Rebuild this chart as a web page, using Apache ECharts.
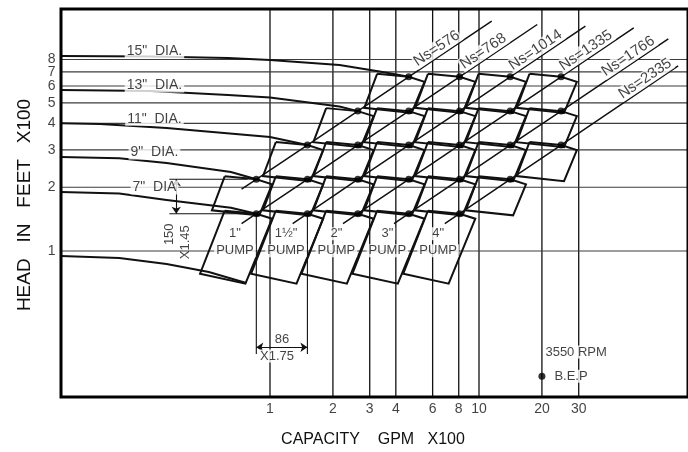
<!DOCTYPE html>
<html><head><meta charset="utf-8">
<script src="https://cdn.jsdelivr.net/npm/echarts@6/dist/echarts.min.js"></script>
<style>html,body{margin:0;padding:0;background:#fff}#c{width:688px;height:452px}</style>
</head><body><div id="c"></div>
<script>
// ---------------- data ----------------
const xTicks = [1, 2, 3, 4, 6, 8, 10, 20, 30];
const yTicks = [1, 2, 3, 4, 5, 6, 7, 8];
// BEP capacity (GPM x100) of each pump column and BEP head (ft x100) of each row
const bepQ = [0.86, 1.51, 2.63, 4.61, 8.07, 14.1, 24.7];
const bepH = [1.50, 2.18, 3.16, 4.57, 6.63];
// columns present on each row
const rowFirstCol = [0, 0, 1, 2, 3];
const rowLastCol  = [4, 5, 6, 6, 6];
const pumpSizes = ['1"', '1½"', '2"', '3"', '4"'];
const diaLabels = ['7"  DIA', '9"  DIA.', '11"  DIA.', '13"  DIA.', '15"  DIA.'];
// impeller H-Q curves from the left edge to the first BEP of each row
const curveQ = [
  [0.1, 0.19, 0.32, 0.65, 0.86],
  [0.1, 0.19, 0.32, 0.65, 0.86],
  [0.1, 0.154, 0.32, 1.0, 1.51],
  [0.1, 0.27, 0.63, 1.0, 2.15, 2.63],
  [0.1, 0.27, 0.63, 1.0, 2.15, 3.4, 4.61]
];
const curveH = [
  [1.90, 1.87, 1.74, 1.60, 1.50],
  [2.78, 2.74, 2.60, 2.36, 2.18],
  [4.01, 3.97, 3.80, 3.45, 3.16],
  [5.75, 5.68, 5.45, 5.30, 4.80, 4.57],
  [8.31, 8.27, 8.13, 7.95, 7.54, 7.00, 6.63]
];
const minCurveQ = [0.1, 0.19, 0.32, 0.51, 0.77];
const minCurveH = [0.947, 0.927, 0.868, 0.796, 0.707];
const nsValues = [576, 768, 1014, 1335, 1766, 2335];
const nsColMinusRow = [-1, 0, 1, 2, 3, 4];
const nsEndQ   = [11.5, 19.0, 32.3, 55, 80.5, 89.7];
const nsLabelQ = [6.6, 11.0, 19.6, 34.1, 54.4, 65.5];
const bepRpm = '3550 RPM';

// ---------------- layout / style constants ----------------
const xMin = 0.1, xMax = 100, yMin = 0.205, yMax = 13.85;
const F = '"Liberation Sans", Arial, sans-serif';
const INK = '#111';
// tile corner factors relative to the BEP (Q factor, H factor)
const TILE = { tl: [0.706, 1.033], tr: [1.19, 0.947],
  br0: [0.887, 0.468], bl0: [0.538, 0.521], bru: [1.033, 0.676], blu: [0.613, 0.714] };
const NS_START = 0.85;

const mul = (p, f) => [p[0] * f[0], p[1] * f[1]];
const dot = (c, r) => [bepQ[c], bepH[r]];
const lbl = (q, h, text, o) => ({ value: [q, h], label: Object.assign({
  show: true, formatter: text, position: 'inside', color: INK, fontFamily: F, fontSize: 13 }, o || {}) });
const WB = { backgroundColor: '#fff', padding: [0, 2] };

const gridV = xTicks.map(x => ({ coords: [[x, yMin], [x, yMax]] }));
const gridH = yTicks.map(y => ({ coords: [[xMin, y], [xMax, y]] }));

const curves = curveQ.map((qs, i) => ({ coords: qs.map((q, j) => [q, curveH[i][j]]) }));
curves.push({ coords: minCurveQ.map((q, j) => [q, minCurveH[j]]) });

const tiles = [], dots = [];
for (let r = 0; r < bepH.length; r++) {
  for (let c = rowFirstCol[r]; c <= rowLastCol[r]; c++) {
    const p = dot(c, r);
    const br = r === 0 ? TILE.br0 : TILE.bru, bl = r === 0 ? TILE.bl0 : TILE.blu;
    tiles.push({ coords: [mul(p, TILE.tl), p, mul(p, TILE.tr), mul(p, br), mul(p, bl), mul(p, TILE.tl)] });
    dots.push(p);
  }
}
dots.push([20, 0.257]); // B.E.P legend mark

const nsLines = [], labels = [];
nsValues.forEach((ns, i) => {
  const k = nsColMinusRow[i], pts = [];
  for (let r = 0; r < bepH.length; r++) {
    const c = r + k;
    if (c >= rowFirstCol[r] && c <= rowLastCol[r]) pts.push(dot(c, r));
  }
  const a = pts[0], b = pts[pts.length - 1];
  const s = Math.log(b[1] / a[1]) / Math.log(b[0] / a[0]);
  const at = q => [q, a[1] * Math.pow(q / a[0], s)];
  nsLines.push({ coords: [at(a[0] * NS_START)].concat(pts, [at(nsEndQ[i])]) });
  const lp = at(nsLabelQ[i]);
  labels.push(lbl(lp[0] * 0.952, lp[1] * 1.074, 'Ns=' + ns,
    Object.assign({ rotate: 34, fontSize: 15, padding: [0, 1] }, { backgroundColor: '#fff' })));
});

yTicks.forEach(y => labels.push(lbl(xMin, y, String(y), { position: 'left', distance: 5, fontSize: 14 })));
xTicks.forEach(x => labels.push(lbl(x, yMin, String(x), { position: 'bottom', distance: 5, fontSize: 14 })));
diaLabels.forEach((t, r) => labels.push(lbl(0.28, curveH[r][0] * 1.05, t, Object.assign({ fontSize: 14 }, WB))));
pumpSizes.forEach((t, c) => {
  labels.push(lbl(bepQ[c] * 0.79, bepH[0] * 0.805, t, Object.assign({}, WB)));
  labels.push(lbl(bepQ[c] * 0.79, bepH[0] * 0.669, 'PUMP', Object.assign({}, WB)));
});
labels.push(lbl(0.33, 1.20, '150', { rotate: 90 }));
labels.push(lbl(0.393, 1.10, 'X1.45', { rotate: 90 }));
labels.push(lbl(1.14, 0.384, '86', WB));
labels.push(lbl(1.08, 0.32, 'X1.75', WB));
labels.push(lbl(20, 0.334, bepRpm, Object.assign({ position: 'right', distance: 1 }, WB)));
labels.push(lbl(20, 0.257, 'B.E.P', Object.assign({ position: 'right', distance: 10 }, WB)));

const extLines = [
  { coords: [[0.33, bepH[1]], [0.78, bepH[1]]] },
  { coords: [[0.33, bepH[0]], [0.78, bepH[0]]] },
  { coords: [[bepQ[0], bepH[0]], [bepQ[0], 0.327]] },
  { coords: [[bepQ[1], bepH[0]], [bepQ[1], 0.327]] }
];
const arrowLines = [
  { coords: [[0.356, bepH[1]], [0.356, bepH[0]]] },
  { coords: [[bepQ[0], 0.352], [bepQ[1], 0.352]] }
];

const linesSeries = (data, style, z, extra) => Object.assign({
  type: 'lines', coordinateSystem: 'cartesian2d', polyline: true, data: data,
  lineStyle: Object.assign({ color: INK, opacity: 1 }, style), z: z, silent: true
}, extra || {});

const chart = echarts.init(document.getElementById('c'));
chart.setOption({
  animation: false,
  backgroundColor: '#fff',
  grid: { left: 61, top: 9, right: -8, bottom: 55, show: true, borderColor: '#000', borderWidth: 3, backgroundColor: 'transparent', z: 20 },
  xAxis: { type: 'log', logBase: 10, min: xMin, max: xMax, axisLine: { show: false }, axisTick: { show: false }, axisLabel: { show: false }, splitLine: { show: false } },
  yAxis: { type: 'log', logBase: 10, min: yMin, max: yMax, axisLine: { show: false }, axisTick: { show: false }, axisLabel: { show: false }, splitLine: { show: false } },
  graphic: [
    { type: 'text', x: 25, y: 205, rotation: Math.PI / 2, style: { text: 'HEAD   IN   FEET   X100', font: '19px ' + F, fill: INK, align: 'center', verticalAlign: 'middle' } },
    { type: 'text', x: 373, y: 440, style: { text: 'CAPACITY    GPM   X100', font: '16px ' + F, fill: INK, align: 'center', verticalAlign: 'middle' } }
  ],
  series: [
    linesSeries(gridV, { width: 1.3 }, 1),
    linesSeries(gridH, { width: 1.1, color: '#3c3c3c' }, 1),
    linesSeries(curves, { width: 2 }, 3),
    linesSeries(tiles, { width: 2 }, 3),
    linesSeries(nsLines, { width: 1.5 }, 3),
    linesSeries(extLines, { width: 1.1 }, 3),
    linesSeries(arrowLines, { width: 1.1 }, 3, { polyline: false, symbol: ['arrow', 'arrow'], symbolSize: 7 }),
    { type: 'scatter', data: dots, symbol: 'circle', symbolSize: 7, itemStyle: { color: '#000' }, z: 4, silent: true },
    { type: 'scatter', data: labels, symbol: 'circle', symbolSize: 1, itemStyle: { color: 'rgba(0,0,0,0)' }, z: 10, clip: false, silent: true }
  ]
});
</script></body></html>
